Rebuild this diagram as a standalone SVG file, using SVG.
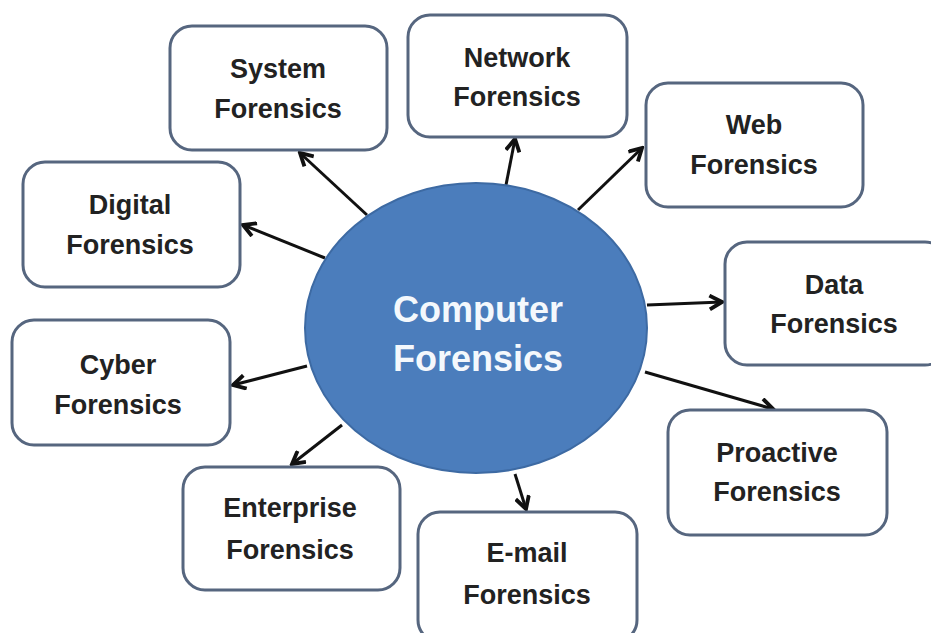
<svg xmlns="http://www.w3.org/2000/svg" width="931" height="633" viewBox="0 0 931 633">
<defs>
<style>
.box rect{fill:#fff;stroke:#56667f;stroke-width:3}
.lbl{font-family:"Liberation Sans",Arial,sans-serif;font-weight:bold;font-size:27px;fill:#222;text-anchor:middle}
.ctr{font-family:"Liberation Sans",Arial,sans-serif;font-weight:bold;font-size:36px;fill:#f4f8fc;text-anchor:middle}
.conn line{stroke:#111;stroke-width:3;marker-end:url(#ah)}
</style>
<marker id="ah" viewBox="0 0 12 12" refX="10" refY="6" markerWidth="5.5" markerHeight="5.5" orient="auto" markerUnits="strokeWidth">
<path d="M1,1 L10,6 L1,11" fill="none" stroke="#111" stroke-width="2.8"/>
</marker>
</defs>
<rect width="931" height="633" fill="#fff"/>
<g id="connectors" class="conn">
<line x1="367" y1="215" x2="300" y2="153"/>
<line x1="506" y1="185" x2="515" y2="139"/>
<line x1="578" y1="210" x2="642" y2="148"/>
<line x1="325" y1="258" x2="243" y2="225"/>
<line x1="647" y1="305" x2="722" y2="302"/>
<line x1="307" y1="366" x2="233" y2="385"/>
<line x1="342" y1="425" x2="292" y2="464"/>
<line x1="515" y1="474" x2="526" y2="509"/>
<line x1="645" y1="372" x2="773" y2="409"/>
</g>
<g id="center">
<ellipse cx="476" cy="328" rx="171" ry="145" fill="#4b7dbc" stroke="#3d6aa3" stroke-width="2"/>
<text class="ctr" x="478" y="322">Computer</text>
<text class="ctr" x="478" y="371">Forensics</text>
</g>
<g id="system" class="box"><rect x="170" y="26" width="217" height="124" rx="22"/><text class="lbl" x="278" y="78">System</text><text class="lbl" x="278" y="118">Forensics</text></g>
<g id="network" class="box"><rect x="408" y="15" width="219" height="122" rx="22"/><text class="lbl" x="517" y="67">Network</text><text class="lbl" x="517" y="106">Forensics</text></g>
<g id="web" class="box"><rect x="646" y="83" width="217" height="124" rx="22"/><text class="lbl" x="754" y="134">Web</text><text class="lbl" x="754" y="174">Forensics</text></g>
<g id="digital" class="box"><rect x="23" y="162" width="217" height="125" rx="22"/><text class="lbl" x="130" y="214">Digital</text><text class="lbl" x="130" y="254">Forensics</text></g>
<g id="data" class="box"><rect x="725" y="242" width="222" height="123" rx="22"/><text class="lbl" x="834" y="294">Data</text><text class="lbl" x="834" y="333">Forensics</text></g>
<g id="cyber" class="box"><rect x="12" y="320" width="218" height="125" rx="22"/><text class="lbl" x="118" y="374">Cyber</text><text class="lbl" x="118" y="414">Forensics</text></g>
<g id="enterprise" class="box"><rect x="183" y="467" width="217" height="123" rx="22"/><text class="lbl" x="290" y="517">Enterprise</text><text class="lbl" x="290" y="559">Forensics</text></g>
<g id="email" class="box"><rect x="418" y="512" width="219" height="130" rx="22"/><text class="lbl" x="527" y="562">E-mail</text><text class="lbl" x="527" y="604">Forensics</text></g>
<g id="proactive" class="box"><rect x="668" y="410" width="219" height="125" rx="22"/><text class="lbl" x="777" y="462">Proactive</text><text class="lbl" x="777" y="501">Forensics</text></g>
</svg>
